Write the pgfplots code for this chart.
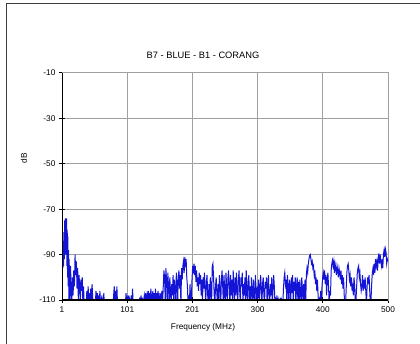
\documentclass[border=0pt]{standalone}
\usepackage{pgfplots}
\pgfplotsset{compat=1.18}
\usepackage{fontspec}
\setmainfont{Liberation Sans}
\definecolor{trace}{RGB}{20,20,215}
\definecolor{gridc}{RGB}{160,160,160}
\begin{document}
\begin{tikzpicture}[x=1pt,y=1pt]
\useasboundingbox (0,0) rectangle (420,343);
\draw[color={rgb,255:red,60;green,60;blue,60}, line width=1pt] (420,339) -- (6,339) -- (6,-2);
\begin{axis}[
  at={(62pt,43pt)}, anchor=south west,
  scale only axis, width=326pt, height=227pt,
  xmin=1, xmax=500, ymin=-110, ymax=-10,
  xtick={1,100.8,200.6,300.4,400.2,500},
  xticklabels={1,101,201,300,400,500},
  ytick={-110,-90,-70,-50,-30,-10},
  xtick pos=left, ytick pos=left,
  tick align=center, major tick length=6pt,
  tick style={black, line width=1pt},
  grid=major, grid style={gridc, line width=1pt},
  axis line style={gridc, line width=1pt},
  ticklabel style={font=\fontsize{8.3}{10}\selectfont},
  /pgf/number format/assume math mode=true,
  clip=true,
]
\addplot[trace, line width=1pt] table {
x y
1 -97
1.5 -103
2 -88
2.5 -96
3 -84
3.5 -95
4 -80
4.5 -92
5 -75
5.5 -88
6 -74
6.5 -90
7 -76
7.5 -86
8 -74
8.5 -95
9 -79
9.5 -100
10 -82
10.5 -104
11 -88
11.5 -110
12 -92
12.5 -106
13 -98
13.5 -112
14 -95
15 -104
16 -112
17 -100
18 -108
19 -97
20 -104
21 -90
22 -99
23 -93
24 -105
25 -96
26 -110
27 -99
28 -103
29 -112
30 -101
31 -106
32 -100
33 -112
34 -104
35 -112
36 -113
37 -112
38 -112
39 -106
40 -112
41 -104
42 -110
43 -107
44 -112
45 -105
46 -112
47 -103
48 -109
49 -112
50 -112
51 -113
52 -112
53 -106
54 -112
55 -107
56 -112
57 -108
58 -112
59 -106
60 -112
61 -113
62 -108
63 -112
64 -112
65 -107
66 -113
67 -112
70 -112
75 -112
79 -112
80 -108
81 -104
82 -112
83 -106
84 -112
85 -104
86 -112
87 -113
92 -112
98 -112
99 -107
100 -110
101 -112
102 -108
103 -112
104 -109
105 -110
106 -112
107 -108
108 -112
109 -105
110 -112
115 -112
119 -112
120 -109
121 -112
122 -108
123 -112
124 -109
125 -112
126 -110
127 -108
128 -112
129 -107
130 -110
131 -108
132 -112
133 -106
134 -110
135 -107
136 -112
137 -105
138 -109
139 -112
140 -106
141 -110
142 -107
143 -112
144 -105
145 -110
146 -107
147 -112
148 -106
149 -109
150 -112
151 -107
152 -112
153 -108
154 -106
155 -112
156 -104
157 -97
158 -100
159 -110
160 -96
161 -101
162 -112
163 -98
164 -104
165 -112
166 -100
167 -106
168 -112
169 -103
170 -108
171 -99
172 -112
173 -101
174 -105
175 -112
176 -98
177 -103
178 -112
179 -100
180 -97
181 -105
182 -99
183 -112
184 -96
185 -101
186 -95
187 -93
188 -98
189 -91
190 -94
191 -92
192 -100
193 -104
194 -112
195 -108
196 -112
197 -103
198 -112
199 -110
200 -101
201 -95
202 -97
203 -94
204 -99
205 -95
206 -102
207 -97
208 -104
209 -100
210 -106
211 -98
212 -103
213 -99
214 -108
215 -101
216 -112
217 -100
218 -105
219 -98
220 -104
221 -112
222 -102
223 -99
224 -108
225 -112
226 -103
227 -112
228 -100
229 -106
230 -112
231 -95
232 -94
233 -100
234 -108
235 -112
236 -104
237 -100
238 -107
239 -112
240 -103
241 -110
242 -99
243 -105
244 -112
245 -101
246 -97
247 -104
248 -112
249 -99
250 -106
251 -112
252 -98
253 -104
254 -112
255 -100
256 -97
257 -105
258 -112
259 -99
260 -108
261 -101
262 -112
263 -97
264 -103
265 -112
266 -100
267 -108
268 -98
269 -105
270 -112
271 -101
272 -97
273 -106
274 -112
275 -100
276 -104
277 -98
278 -112
279 -103
280 -108
281 -100
282 -112
283 -97
284 -105
285 -112
286 -102
287 -99
288 -110
289 -104
290 -112
291 -100
292 -106
293 -112
294 -101
295 -108
296 -112
297 -99
298 -105
299 -112
300 -104
301 -109
302 -101
303 -112
304 -106
305 -99
306 -104
307 -112
308 -103
309 -100
310 -108
311 -112
312 -102
313 -105
314 -100
315 -112
316 -104
317 -99
318 -110
319 -112
320 -103
321 -108
322 -100
323 -112
324 -105
325 -99
326 -104
327 -112
328 -110
329 -112
330 -108
331 -112
332 -110
333 -112
334 -112
335 -109
336 -112
337 -110
338 -112
339 -112
340 -105
341 -100
342 -98
343 -103
344 -101
345 -110
346 -99
347 -105
348 -112
349 -101
350 -104
351 -112
352 -100
353 -107
354 -99
355 -112
356 -102
357 -106
358 -100
359 -112
360 -104
361 -100
362 -110
363 -102
364 -112
365 -101
366 -106
367 -112
368 -100
369 -105
370 -112
371 -103
372 -112
373 -101
374 -112
375 -99
376 -96
377 -98
378 -94
379 -92
380 -90.5
381 -90
382 -92
383 -94
384 -93
385 -96
386 -95
387 -99
388 -97
389 -103
390 -100
391 -106
392 -101
393 -108
394 -112
395 -110
396 -112
397 -106
398 -112
399 -104
400 -100
401 -98
402 -101
403 -97
404 -103
405 -99
406 -108
407 -101
408 -98
409 -104
410 -112
411 -106
412 -108
413 -97
414 -94
415 -92.5
416 -95
417 -93
418 -98
419 -94
420 -96
421 -99
422 -95
423 -97
424 -100
425 -96
426 -98
427 -101
428 -97
429 -103
430 -99
431 -105
432 -100
433 -108
434 -112
435 -112
436 -105
437 -98
438 -95
439 -94
440 -97
441 -101
442 -99
443 -104
444 -100
445 -106
446 -104
447 -108
448 -100
449 -104
450 -112
451 -110
452 -104
453 -98
454 -96
455 -95
456 -100
457 -98
458 -103
459 -106
460 -104
461 -99
462 -106
463 -101
464 -105
465 -100
466 -106
467 -112
468 -104
469 -100
470 -103
471 -99
472 -106
473 -112
474 -110
475 -103
476 -98
477 -96
478 -99
479 -94
480 -98
481 -92
482 -95
483 -93
484 -97
485 -92
486 -89.5
487 -94
488 -90
489 -93
490 -95
491 -92
492 -96
493 -90
494 -88
495 -91
496 -87.5
497 -89
498 -94
499 -92
500 -93
};
\draw[black, line width=1.5pt] (rel axis cs:0,1) -- (rel axis cs:0,0) -- (rel axis cs:1,0);
\end{axis}
\node[font=\fontsize{9.3}{11}\selectfont] at (203,288) {B7 - BLUE - B1 - CORANG};
\node[font=\fontsize{8.3}{10}\selectfont] at (203,16) {Frequency (MHz)};
\node[font=\fontsize{8.3}{10}\selectfont, rotate=90] at (24,185) {dB};
\end{tikzpicture}
\end{document}
